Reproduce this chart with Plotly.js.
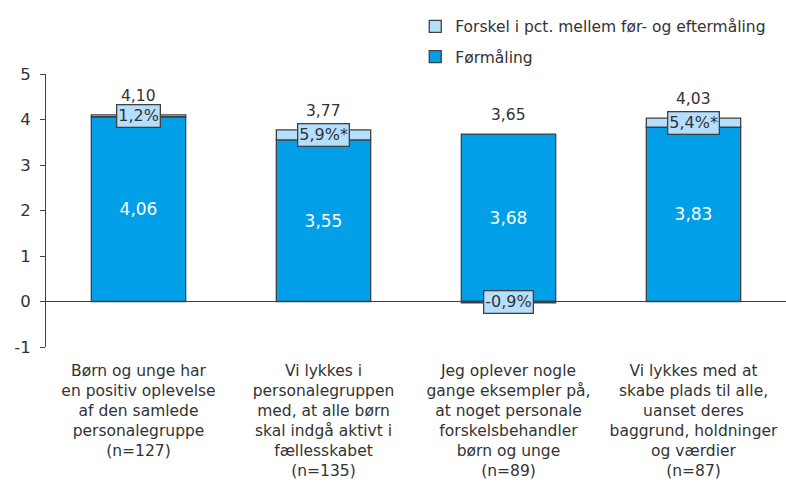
<!DOCTYPE html>
<html>
<head>
<meta charset="utf-8">
<script src="https://cdn.plot.ly/plotly-3.0.1.min.js"></script>
<style>
  body { margin: 0; background: #fff; }
  #chart { width: 786px; height: 485px; }
</style>
</head>
<body>
<div id="chart"></div>
<script>
// Data
const categories = [
  "Børn og unge har<br>en positiv oplevelse<br>af den samlede<br>personalegruppe<br>(n=127)",
  "Vi lykkes i<br>personalegruppen<br>med, at alle børn<br>skal indgå aktivt i<br>fællesskabet<br>(n=135)",
  "Jeg oplever nogle<br>gange eksempler på,<br>at noget personale<br>forskelsbehandler<br>børn og unge<br>(n=89)",
  "Vi lykkes med at<br>skabe plads til alle,<br>uanset deres<br>baggrund, holdninger<br>og værdier<br>(n=87)"
];
const formaaling = [4.06, 3.55, 3.68, 3.83];
const forskel = [0.04, 0.22, -0.03, 0.20];
const forskelPct = ["1,2%", "5,9%*", "-0,9%", "5,4%*"];
const eftermaaling = [4.10, 3.77, 3.65, 4.03];
const yTickVals = [-1, 0, 1, 2, 3, 4, 5];
const yTickText = ["-1", "0", "1", "2", "3", "4", "5"];

const blue = "#009FE8";
const lightBlue = "#B5DFFF";
const edge = "#404040";
const fnt = "DejaVu Sans";

const fmt = v => v.toFixed(2).replace(".", ",");

const trace1 = {
  name: "Førmåling",
  x: categories,
  y: formaaling,
  type: "bar",
  width: 0.51,
  marker: { color: blue, line: { color: edge, width: 1.3 } },
  text: formaaling.map(fmt),
  textposition: "inside",
  insidetextanchor: "middle",
  textfont: { family: fnt, size: 17, color: "#ffffff" },
  legendgroup: "a",
  legendrank: 2,
  hoverinfo: "none"
};

const trace2 = {
  name: "Forskel i pct. mellem før- og eftermåling",
  x: categories,
  y: forskel,
  type: "bar",
  width: 0.51,
  marker: { color: lightBlue, line: { color: edge, width: 1.3 } },
  textposition: "none",
  legendgroup: "b",
  legendrank: 1,
  hoverinfo: "none"
};

const annotations = [];
categories.forEach((c, i) => {
  // boxed percentage on the difference segment
  const base = forskel[i] >= 0 ? formaaling[i] : 0;
  annotations.push({
    x: c, y: base + forskel[i] / 2,
    text: forskelPct[i],
    showarrow: false,
    font: { family: fnt, size: 16, color: "#333333" },
    bgcolor: lightBlue,
    bordercolor: edge,
    borderwidth: 1.3,
    borderpad: 1
  });
  // total label above bar
  const top = formaaling[i] + Math.max(0, forskel[i]);
  annotations.push({
    x: c, y: top,
    yshift: 8,
    text: fmt(eftermaaling[i]),
    showarrow: false,
    yanchor: "bottom",
    font: { family: fnt, size: 15.5, color: "#333333" }
  });
});

const layout = {
  width: 786,
  height: 485,
  margin: { l: 46, r: 0, t: 74, b: 138 },
  paper_bgcolor: "#ffffff",
  plot_bgcolor: "#ffffff",
  barmode: "relative",
  font: { family: fnt, size: 15, color: "#333333" },
  showlegend: true,
  legend: {
    x: 0.499, xanchor: "left",
    y: 1.235, yanchor: "top",
    traceorder: "grouped",
    tracegroupgap: 7,
    font: { family: fnt, size: 15.5, color: "#333333" },
    bgcolor: "rgba(0,0,0,0)"
  },
  xaxis: {
    type: "category",
    showline: false,
    ticks: "",
    tickangle: 0,
    ticklabelstandoff: 12,
    tickfont: { family: fnt, size: 15.5, color: "#333333" },
    showgrid: false
  },
  yaxis: {
    range: [-1, 5],
    tickvals: yTickVals,
    ticktext: yTickText,
    showgrid: false,
    showline: true,
    linecolor: edge,
    linewidth: 1,
    ticks: "outside",
    ticklen: 5,
    tickcolor: edge,
    ticklabelstandoff: 6,
    zeroline: true,
    zerolinecolor: edge,
    zerolinewidth: 1,
    tickfont: { family: fnt, size: 16.5, color: "#333333" }
  },
  annotations: annotations
};

Plotly.newPlot("chart", [trace1, trace2], layout, { staticPlot: true });
</script>
</body>
</html>
